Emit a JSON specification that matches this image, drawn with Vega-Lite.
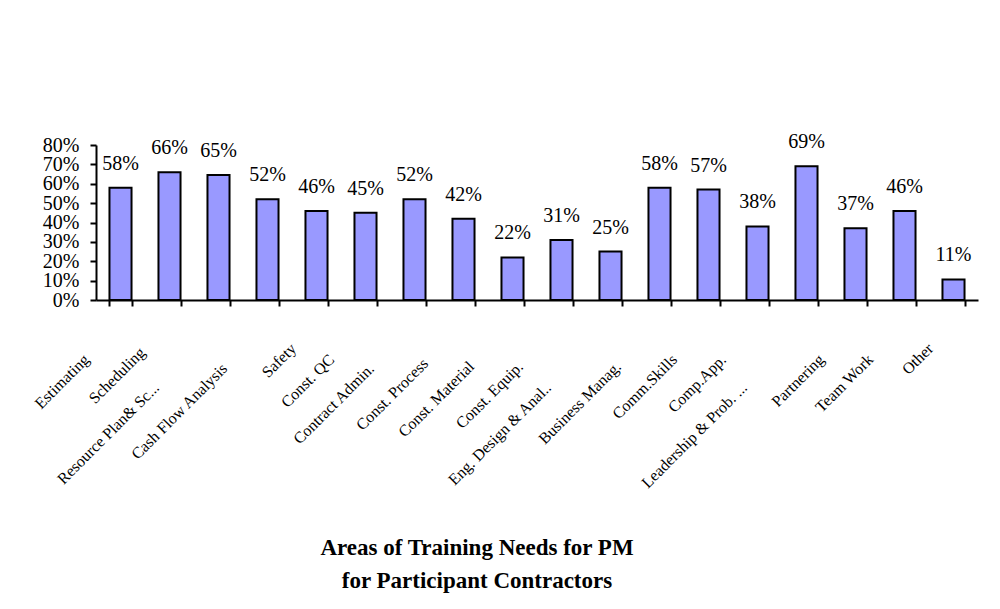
{
  "$schema": "https://vega.github.io/schema/vega-lite/v6.json",
  "autosize": "none",
  "width": 882,
  "height": 155,
  "padding": {"left": 96, "top": 145, "right": 22, "bottom": 309},
  "background": "white",
  "data": {"values": [
    {"area": "Estimating", "share": 0.58},
    {"area": "Scheduling", "share": 0.66},
    {"area": "Resource Plan& Sc...", "share": 0.645},
    {"area": "Cash Flow Analysis", "share": 0.52},
    {"area": "Safety", "share": 0.46},
    {"area": "Const. QC", "share": 0.45},
    {"area": "Contract Admin.", "share": 0.52},
    {"area": "Const. Process", "share": 0.42},
    {"area": "Const. Material", "share": 0.22},
    {"area": "Const. Equip.", "share": 0.31},
    {"area": "Eng. Design & Anal..", "share": 0.25},
    {"area": "Business Manag.", "share": 0.58},
    {"area": "Comm.Skills", "share": 0.57},
    {"area": "Comp.App.", "share": 0.38},
    {"area": "Leadership & Prob. ...", "share": 0.69},
    {"area": "Partnering", "share": 0.37},
    {"area": "Team Work", "share": 0.46},
    {"area": "Other", "share": 0.106}
  ]},
  "title": {
    "text": ["Areas of Training Needs for PM", "for Participant Contractors"],
    "orient": "bottom",
    "anchor": "middle",
    "font": "Liberation Serif",
    "fontSize": 23,
    "fontWeight": "bold",
    "color": "black",
    "lineHeight": 33,
    "dx": -60,
    "offset": 46
  },
  "encoding": {
    "x": {
      "field": "area",
      "type": "nominal",
      "sort": null,
      "title": null,
      "scale": {"paddingInner": 0.55, "paddingOuter": 0.275},
      "axis": {
        "labelAngle": -45,
        "labelFont": "Liberation Serif",
        "labelFontSize": 16,
        "labelColor": "black",
        "labelPadding": {"expr": "datum.value == 'Resource Plan& Sc...' || datum.value == 'Leadership & Prob. ...' || datum.value == 'Eng. Design & Anal..' ? 73 : datum.value == 'Cash Flow Analysis' || datum.value == 'Contract Admin.' ? 54 : datum.value == 'Const. Material' || datum.value == 'Business Manag.' || datum.value == 'Const. Equip.' ? 52 : datum.value == 'Const. Process' ? 49 : datum.value == 'Safety' || datum.value == 'Other' ? 34 : datum.value == 'Scheduling' ? 38 : 45"},
        "labelOffset": {"expr": "datum.value == 'Resource Plan& Sc...' || datum.value == 'Leadership & Prob. ...' || datum.value == 'Eng. Design & Anal..' ? -68 : datum.value == 'Cash Flow Analysis' || datum.value == 'Contract Admin.' ? -49 : datum.value == 'Const. Material' || datum.value == 'Business Manag.' || datum.value == 'Const. Equip.' ? -47 : datum.value == 'Const. Process' ? -44 : datum.value == 'Safety' || datum.value == 'Other' ? -29 : datum.value == 'Scheduling' ? -33 : -40"},
        "labelOverlap": false,
        "labelLimit": 300,
        "tickBand": "extent",
        "tickColor": "black",
        "tickWidth": 2,
        "tickSize": 6,
        "domainColor": "black",
        "domainWidth": 2,
        "grid": false
      }
    },
    "y": {
      "field": "share",
      "type": "quantitative",
      "title": null,
      "scale": {"domain": [0, 0.8], "nice": false},
      "axis": {
        "values": [0, 0.1, 0.2, 0.3, 0.4, 0.5, 0.6, 0.7, 0.8],
        "format": ".0%",
        "labelFont": "Liberation Serif",
        "labelFontSize": 20,
        "labelColor": "black",
        "labelPadding": 11,
        "labelOverlap": false,
        "labelFlush": false,
        "labelBound": false,
        "tickColor": "black",
        "tickWidth": 2,
        "tickSize": 6,
        "domainColor": "black",
        "domainWidth": 2,
        "grid": false
      }
    }
  },
  "layer": [
    {
      "mark": {"type": "bar", "fill": "#9999FF", "stroke": "black", "strokeWidth": 2}
    },
    {
      "mark": {"type": "text", "font": "Liberation Serif", "fontSize": 20, "color": "black", "baseline": "alphabetic", "dy": -18},
      "encoding": {"text": {"field": "share", "format": ".0%"}}
    }
  ],
  "config": {"view": {"stroke": null}}
}
